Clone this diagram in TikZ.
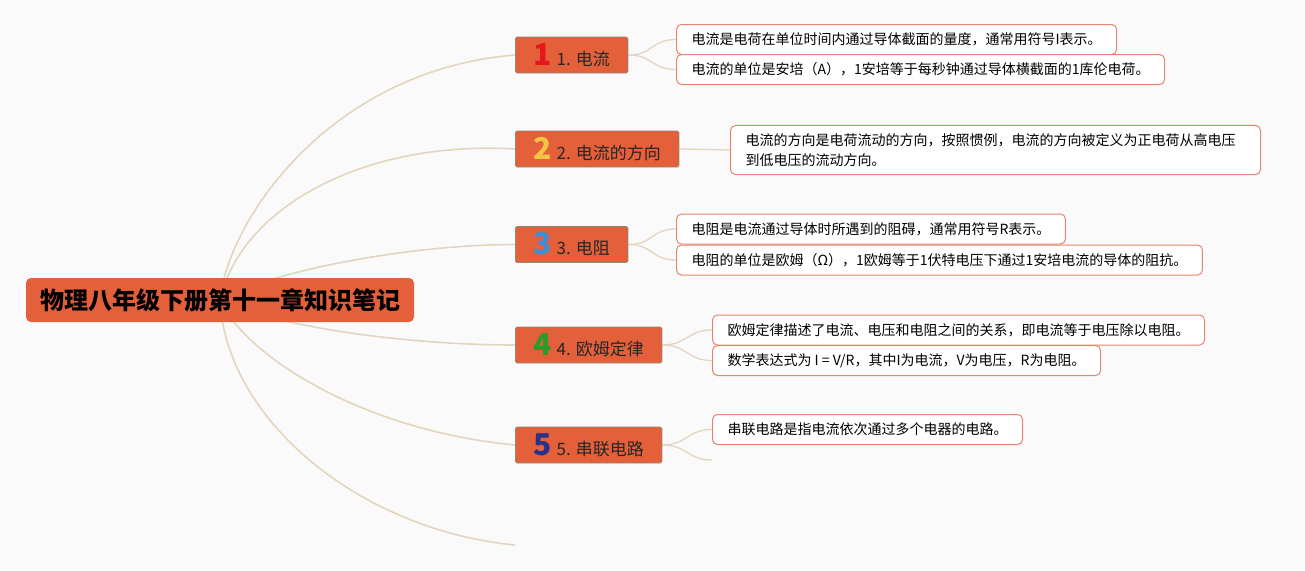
\documentclass[tikz,border=0pt]{standalone}
\usepackage{fontspec}
\setmainfont{Noto Sans CJK SC}
\usepackage{xcolor}
\usepackage{tikz}
\usetikzlibrary{positioning,backgrounds}
\definecolor{naranja}{HTML}{E4603A}
\definecolor{gris}{HTML}{8E8A78}
\definecolor{beige}{HTML}{E3D5BF}
\definecolor{salmon}{HTML}{E8846C}
\definecolor{fondo}{HTML}{FAFAFA}
\definecolor{rojo}{HTML}{E5161C}
\definecolor{amarillo}{HTML}{F6C445}
\definecolor{azul}{HTML}{3C8ED6}
\definecolor{verde}{HTML}{2E9A2A}
\definecolor{marino}{HTML}{27308A}
\newcommand{\cifra}[2]{{\fontsize{30}{30}\selectfont\bfseries\color{#1}#2}\hspace{5pt}}
\tikzset{
  raiz/.style={fill=naranja,rounded corners=5pt,minimum width=388pt,minimum height=44pt,font=\fontsize{24}{24}\selectfont\bfseries,text=black},
  tema/.style={draw=gris,fill=naranja,rounded corners=1.5pt,line width=0.8pt,anchor=west,minimum height=36pt,inner xsep=18pt,inner ysep=0pt,font=\fontsize{17}{17}\selectfont,text=black!85},
  hoja/.style={draw=salmon,fill=white,rounded corners=5pt,line width=1pt,anchor=west,minimum height=30pt,inner xsep=15pt,inner ysep=3pt,align=left,font=\fontsize{14}{20}\selectfont},
  rama/.style={beige,line width=1.6pt},
  ramita/.style={beige,line width=1.3pt},
}

\begin{document}
\begin{tikzpicture}[x=1pt,y=-1pt]
  \useasboundingbox (0,0) rectangle (1305,570);
  \node[raiz] (raiz) at (220,300) {物理八年级下册第十一章知识笔记};
  \node[tema] (t1) at (515,55) {\cifra{rojo}{1}1. 电流};
  \node[tema] (t2) at (515,149) {\cifra{amarillo}{2}2. 电流的方向};
  \node[tema] (t3) at (515,244.5) {\cifra{azul}{3}3. 电阻};
  \node[tema] (t4) at (515,345) {\cifra{verde}{4}4. 欧姆定律};
  \node[tema] (t5) at (515,445) {\cifra{marino}{5}5. 串联电路};
  \node[hoja] (h1a) at (676,39.5) {电流是电荷在单位时间内通过导体截面的量度，通常用符号I表示。};
  \node[hoja] (h1b) at (676,69.5) {电流的单位是安培（A），1安培等于每秒钟通过导体横截面的1库伦电荷。};
  \node[hoja,text width=500pt,inner ysep=8pt] (h2a) at (730,150) {电流的方向是电荷流动的方向，按照惯例，电流的方向被定义为正电荷从高电压\\到低电压的流动方向。};
  \node[hoja] (h3a) at (676,229) {电阻是电流通过导体时所遇到的阻碍，通常用符号R表示。};
  \node[hoja] (h3b) at (676,260) {电阻的单位是欧姆（Ω），1欧姆等于1伏特电压下通过1安培电流的导体的阻抗。};
  \node[hoja] (h4a) at (712,330) {欧姆定律描述了电流、电压和电阻之间的关系，即电流等于电压除以电阻。};
  \node[hoja] (h4b) at (712,360.5) {数学表达式为 I = V/R，其中I为电流，V为电压，R为电阻。};
  \node[hoja] (h5a) at (712,429.5) {串联电路是指电流依次通过多个电器的电路。};
  \coordinate (cabo5) at (712,460);
  \coordinate (caboraiz) at (515,545);
  \begin{scope}[on background layer]
    \fill[fondo] (0,0) rectangle (1305,570);
    % ramas principales
    \draw[rama] (raiz.center) .. controls +(8,-80) and +(-185,15) .. (t1.west);
    \draw[rama] (raiz.center) .. controls +(20,-90) and +(-155,-9) .. (t2.west);
    \draw[rama] (raiz.center) .. controls +(40,-25) and +(-115,0) .. (t3.west);
    \draw[rama] (raiz.center) .. controls +(50,25) and +(-115,0) .. (t4.west);
    \draw[rama] (raiz.center) .. controls +(25,55) and +(-155,-15) .. (t5.west);
    \draw[rama] (raiz.center) .. controls +(6,120) and +(-155,-15) .. (caboraiz);
    % ramas de las hojas
    \draw[ramita] (t1.east) .. controls +(25,0) and +(-25,0) .. (h1a.west);
    \draw[ramita] (t1.east) .. controls +(25,0) and +(-25,0) .. (h1b.west);
    \draw[ramita] (t2.east) -- (h2a.west);
    \draw[ramita] (t3.east) .. controls +(25,0) and +(-25,0) .. (h3a.west);
    \draw[ramita] (t3.east) .. controls +(25,0) and +(-25,0) .. (h3b.west);
    \draw[ramita] (t4.east) .. controls +(25,0) and +(-25,0) .. (h4a.west);
    \draw[ramita] (t4.east) .. controls +(25,0) and +(-25,0) .. (h4b.west);
    \draw[ramita] (t5.east) .. controls +(25,0) and +(-25,0) .. (h5a.west);
    \draw[ramita] (t5.east) .. controls +(25,0) and +(-25,0) .. (cabo5);
  \end{scope}
\end{tikzpicture}
\end{document}
